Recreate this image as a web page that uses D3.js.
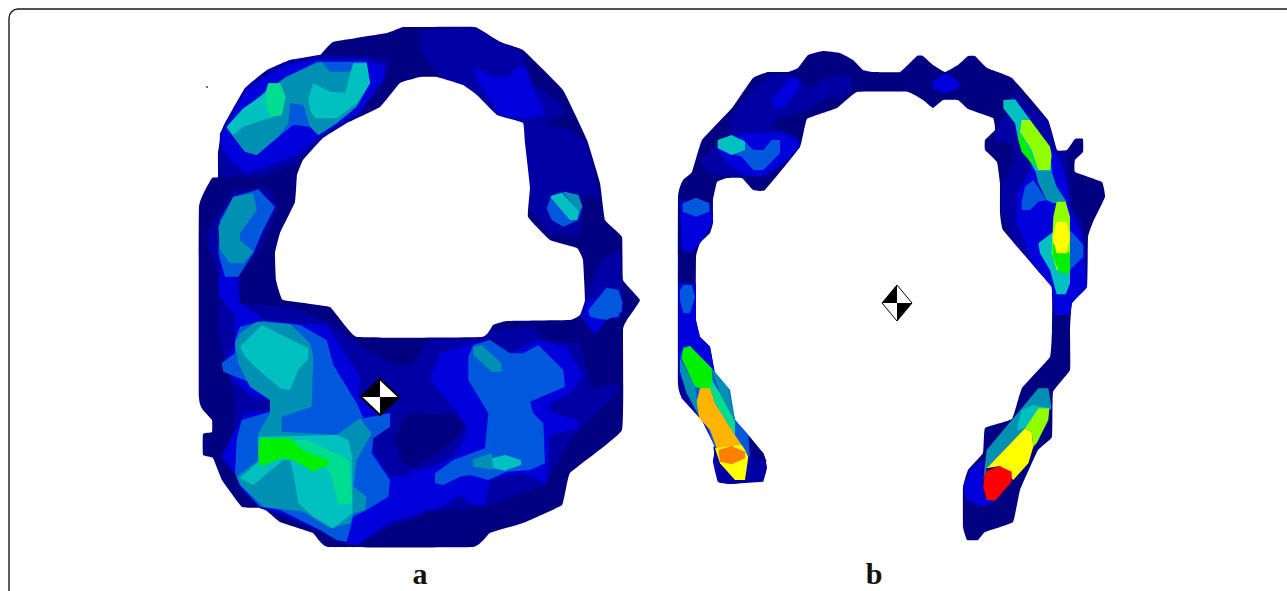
<!DOCTYPE html>
<html>
<head>
<meta charset="utf-8">
<script src="https://cdn.jsdelivr.net/npm/d3@7"></script>
<style>
  html, body { margin: 0; padding: 0; background: #ffffff; overflow: hidden; }
</style>
</head>
<body>
<div id="graph"></div>
<script>
// contour colours, lowest pressure first
var levelColors = ["#000080", "#0000a4", "#0000dc", "#0658dc", "#0090b4", "#00c0c0", "#00dc90",
                   "#00f000", "#90ff00", "#ffff00", "#ffb400", "#ff8000", "#ff0000", "#ffffff"];

var crops = {
    full: [0, 0, 1],
    a1: [190, 20, 3],
    a2: [420, 20, 3],
    a3: [190, 300, 3],
    a4: [410, 300, 3],
    b1: [670, 40, 3],
    b2: [900, 40, 3],
    b3: [670, 280, 3],
    b4: [950, 330, 3]
};

var HOLE = 13;

// [contour level, crop, x y x y ...]
var panelA = [
    [0, "full", [420,27, 475,27, 500,42, 523,50, 563,90, 587,140, 600,183, 605,220, 622,237, 623,280, 640,300, 627,320, 623,330, 622,430, 570,473, 562,505, 523,523, 490,533, 473,547, 328,547, 313,533, 280,522, 263,508, 242,507, 222,480, 213,458, 203,455, 203,434, 212,432, 212,420, 203,410, 199,397, 199,207, 212,178, 218,177, 218,153, 223,127, 245,88, 267,70, 290,60, 318,57, 333,42, 387,33, 403,27]],
    // top left lobe
    [1, "a1", [85,470, 90,340, 165,205, 235,150, 300,120, 385,105, 520,110, 600,120, 590,170, 540,240, 470,310, 400,350, 320,430, 220,470]],
    [2, "a1", [95,340, 170,210, 235,165, 290,135, 390,118, 530,118, 585,140, 580,180, 545,225, 510,280, 450,310, 395,345, 320,405, 230,440, 170,462, 120,420, 95,380]],
    [3, "a1", [110,320, 220,220, 290,170, 380,125, 530,125, 540,190, 500,260, 440,310, 385,345, 360,320, 310,315, 265,350, 200,405, 165,395, 130,350]],
    [4, "a1", [110,325, 220,220, 290,170, 380,130, 395,125, 420,155, 480,155, 490,130, 530,130, 540,190, 500,260, 440,310, 385,345, 360,320, 340,255, 300,250, 295,310, 265,350, 200,405, 165,395, 130,350]],
    [5, "a1", [110,320, 160,265, 225,220, 235,190, 270,190, 285,225, 275,285, 220,300, 160,320, 130,345]],
    [5, "a1", [355,235, 370,190, 420,215, 465,218, 490,130, 530,130, 540,190, 500,250, 440,295, 375,295, 360,270]],
    [6, "a1", [235,190, 270,190, 287,230, 275,285, 240,290, 225,245]],
    // left lobe
    [1, "a1", [45,650, 130,510, 230,500, 265,560, 215,680, 150,770, 150,840, 85,840, 85,760]],
    [2, "a1", [85,680, 90,740, 85,800, 90,840, 150,840, 140,770, 190,700, 215,640, 130,530]],
    [3, "a1", [130,530, 205,508, 255,560, 215,640, 190,700, 145,770, 105,770, 85,700, 90,600]],
    [4, "a1", [85,620, 130,530, 190,520, 200,570, 150,640, 150,660, 190,695, 160,730, 120,730, 90,690]],
    // top right and right side
    [1, "a2", [0,30, 165,25, 240,65, 310,100, 340,190, 420,250, 440,280, 370,310, 450,330, 500,370, 540,530, 490,525, 480,650, 390,640, 330,570, 325,490, 310,350, 310,310, 230,285, 170,225, 130,195, 60,175, 0,90]],
    [2, "a2", [165,140, 220,170, 265,170, 290,140, 315,140, 345,220, 370,255, 370,285, 310,298, 240,285, 170,180]],
    [3, "a2", [380,565, 395,525, 435,515, 475,525, 487,560, 475,600, 430,620, 395,600]],
    [4, "a2", [430,515, 475,525, 487,560, 475,575]],
    [5, "a2", [390,530, 425,518, 478,575, 470,600, 450,600]],
    [1, "a2", [490,850, 540,720, 600,690, 610,860, 590,895, 480,895]],
    [2, "a2", [500,860, 560,800, 600,810, 610,860, 600,895, 490,895]],
    [2, "a4", [520,60, 555,105, 590,60, 630,5, 530,0]],
    [3, "a2", [505,870, 560,803, 595,810, 608,850, 595,890, 540,898, 510,890]],
    [3, "a4", [540,30, 580,0, 635,0, 635,35, 590,60, 545,50]],
    // lower half
    [1, "a3", [85,10, 300,20, 420,70, 480,115, 600,190, 690,200, 690,650, 600,680, 500,738, 440,725, 390,695, 270,645, 210,625, 155,575, 135,525, 95,475, 130,400, 135,300, 85,100]],
    [1, "a4", [0,200, 60,115, 215,115, 250,90, 375,80, 400,120, 510,130, 545,265, 620,250, 625,275, 480,420, 405,555, 310,590, 225,622, 100,630, 0,650]],
    [2, "a3", [100,0, 140,0, 210,50, 220,65, 135,60, 135,40, 110,20]],
    [2, "a3", [135,50, 220,62, 410,75, 510,230, 505,290, 560,340, 605,340, 600,380, 550,415, 550,455, 600,530, 690,525, 690,640, 600,665, 500,735, 440,720, 390,690, 270,640, 210,620, 155,570, 135,520, 95,470, 130,400, 165,340, 240,330, 240,300, 185,290, 130,240, 100,190, 135,130]],
    [2, "a4", [0,510, 70,500, 130,470, 165,410, 170,375, 120,310, 60,240, 90,160, 190,130, 240,120, 300,160, 380,120, 470,140, 520,230, 480,280, 420,310, 420,335, 500,360, 505,385, 420,405, 410,550, 330,520, 240,540, 225,615, 180,610, 150,585, 100,620, 0,640]],
    [0, "a3", [690,340, 640,350, 610,420, 640,490, 690,510]],
    [0, "a4", [0,340, 130,345, 165,375, 130,420, 70,470, 0,500]],
    [3, "a3", [150,80, 220,62, 330,75, 410,120, 430,195, 500,310, 520,355, 600,340, 600,380, 550,415, 545,460, 600,540, 595,590, 530,630, 490,650, 470,725, 440,720, 390,690, 270,630, 210,620, 155,560, 135,520, 140,420, 155,360, 240,335, 240,300, 185,250, 100,215, 95,190, 135,160, 135,120]],
    [3, "a4", [190,135, 240,120, 300,160, 340,160, 385,135, 460,210, 465,260, 360,305, 370,340, 400,370, 405,490, 360,510, 290,515, 235,540, 180,525, 150,530, 100,555, 75,550, 75,520, 130,480, 225,445, 235,340, 175,240, 175,170]],
    [4, "a3", [150,100, 200,65, 300,72, 360,130, 370,170, 365,320, 275,350, 275,395, 440,405, 510,355, 545,400, 500,480, 490,560, 530,590, 525,630, 490,640, 480,670, 420,685, 340,635, 220,620, 150,555, 140,530, 205,480, 205,400, 240,340, 240,300, 180,260, 145,190, 135,130]],
    [4, "a4", [190,140, 215,135, 275,190, 275,215, 245,215, 190,165]],
    [4, "a4", [188,478, 245,460, 250,510, 190,500]],
    [5, "a3", [150,140, 215,75, 285,110, 355,145, 355,175, 325,210, 300,270, 270,265, 200,205, 165,170]],
    [5, "a3", [205,410, 440,405, 475,420, 487,470, 487,640, 430,685, 370,650, 325,610, 310,520, 300,480, 280,480, 190,555, 150,535, 205,485]],
    [5, "a4", [245,475, 285,465, 333,480, 333,495, 285,512, 250,505]],
    [6, "a3", [310,420, 350,420, 478,480, 487,610, 445,615, 425,530, 400,490, 310,470]],
    [7, "a3", [210,415, 300,415, 345,455, 415,480, 415,495, 370,515, 310,480, 275,475, 210,500, 205,460]],
    // opening of the ring
    [HOLE, "full", [297,175, 295,202, 280,233, 275,253, 276,280, 283,300, 330,307, 357,337, 482,337, 493,325, 507,321, 570,320, 580,315, 585,300, 583,260, 577,248, 550,240, 528,217, 530,187, 525,143, 523,123, 497,115, 477,95, 463,85, 437,77, 420,77, 400,83, 380,107, 347,123, 323,138, 303,160]]
];

var panelB = [
    [0, "full", [678,197, 683,180, 692,172, 702,140, 732,108, 753,78, 768,72, 788,72, 798,68, 808,55, 823,51, 840,53, 853,60, 863,70, 873,72, 900,72, 917,56, 923,56, 933,65, 945,72, 958,65, 968,56, 975,56, 987,68, 1012,78, 1048,120, 1057,150, 1067,150, 1075,139, 1083,139, 1083,152, 1075,160, 1075,172, 1102,182, 1105,197, 1093,222, 1088,237, 1087,287, 1072,303, 1070,330, 1070,370, 1053,392, 1052,437, 1038,450, 1020,490, 1013,522, 985,532, 978,540, 967,540, 963,527, 963,487, 968,470, 983,453, 985,428, 1012,419, 1022,388, 1050,357, 1052,330, 1052,287, 1040,273, 1003,230, 1000,213, 1000,183, 997,162, 985,150, 985,140, 995,130, 993,118, 968,109, 958,100, 943,100, 933,108, 923,100, 908,92, 857,92, 837,108, 807,119, 800,147, 765,190, 753,190, 742,178, 727,178, 717,182, 713,200, 713,223, 710,233, 700,243, 696,257, 696,320, 700,337, 710,347, 715,373, 728,390, 735,420, 763,453, 767,467, 763,480, 730,484, 718,482, 713,462, 715,447, 710,430, 700,418, 682,398, 678,383]],
    // top left
    [1, "b1", [190,220, 250,150, 300,105, 355,100, 395,120, 410,140, 430,140, 460,115, 500,105, 545,110, 545,145, 510,175, 480,170, 400,215, 320,235, 305,260, 385,290, 390,320, 340,370, 290,410, 180,410, 120,400, 90,370, 100,350, 170,290]],
    [2, "b1", [305,180, 360,112, 388,120, 385,150, 340,205, 310,205]],
    [2, "b1", [150,300, 230,280, 340,280, 388,305, 385,325, 340,370, 280,408, 220,405, 170,370, 145,330]],
    [3, "b1", [215,295, 250,330, 280,330, 305,300, 330,300, 330,340, 280,390, 250,390, 215,350, 180,340]],
    [5, "b1", [143,300, 185,285, 225,305, 225,330, 185,345, 143,325]],
    [2, "b1", [30,480, 120,490, 130,545, 90,610, 60,640, 35,630]],
    [3, "b1", [38,490, 78,473, 118,490, 118,515, 78,530, 38,515]],
    // lower left foot
    [2, "b3", [25,10, 78,10, 78,120, 90,170, 120,200, 135,280, 175,335, 195,420, 235,465, 240,530, 235,600, 180,612, 145,605, 130,545, 135,500, 90,410, 30,310, 25,250]],
    [1, "b3", [27,290, 75,320, 90,415, 35,355]],
    [1, "b3", [130,500, 235,470, 290,560, 280,605, 180,612, 145,605]],
    [0, "b3", [235,465, 280,520, 290,545, 245,530]],
    [3, "b3", [30,60, 30,30, 40,15, 65,15, 75,50, 60,100, 40,100]],
    [3, "b3", [30,230, 40,200, 60,198, 125,265, 180,330, 195,420, 235,465, 240,530, 225,520, 135,505]],
    [4, "b3", [30,235, 75,320, 90,415, 50,340, 30,275]],
    [4, "b3", [125,265, 175,325, 195,425, 150,340]],
    [7, "b3", [40,205, 60,198, 125,265, 130,330, 90,325, 75,320, 35,235]],
    [6, "b3", [125,300, 150,340, 195,425, 195,465, 135,370, 120,325]],
    [10, "b3", [90,325, 120,325, 135,370, 195,465, 215,495, 230,515, 140,505, 120,450, 88,415, 80,365]],
    [9, "b3", [135,505, 215,495, 235,530, 225,600, 195,600, 150,550]],
    [11, "b3", [145,510, 185,498, 225,515, 225,535, 185,553, 150,545]],
    // right side
    [2, "b2", [98,125, 135,100, 178,125, 178,145, 135,160, 98,145]],
    [1, "b2", [330,165, 350,160, 445,245, 470,335, 500,340, 510,450, 520,510, 545,545, 560,640, 560,740, 515,790, 510,825, 460,825, 455,740, 420,700, 345,610, 305,520, 305,430, 345,360, 335,310, 290,310, 285,270, 315,230]],
    [2, "b2", [350,260, 470,340, 500,420, 510,500, 550,600, 560,740, 515,790, 510,825, 465,825, 455,740, 400,670, 350,550, 350,460, 375,420, 400,370]],
    [3, "b2", [365,485, 375,440, 400,420, 440,480, 415,485, 390,510, 365,510]],
    [3, "b2", [510,570, 550,615, 550,650, 510,690]],
    [4, "b2", [400,370, 450,380, 470,440, 500,485, 460,490, 440,480, 415,430]],
    [5, "b2", [415,610, 460,575, 465,640, 510,690, 510,730, 497,763, 470,763, 450,690, 420,640]],
    [5, "b2", [310,180, 345,178, 450,320, 455,392, 405,392, 355,300, 345,250, 310,205]],
    [8, "b2", [365,240, 390,240, 450,320, 455,345, 450,390, 415,390, 395,330, 360,275]],
    [7, "b2", [358,275, 390,330, 410,385, 395,370, 365,335, 355,300]],
    [8, "b2", [470,485, 497,485, 510,530, 510,690, 470,690, 455,640, 460,530]],
    [7, "b2", [458,610, 510,640, 510,700, 480,700, 458,650]],
    [9, "b2", [470,545, 500,545, 510,590, 500,640, 470,640, 457,590]],
    // lower right foot
    [2, "b4", [40,470, 60,420, 100,390, 100,500, 135,515, 95,530, 50,510]],
    [4, "b4", [100,450, 110,360, 215,235, 265,175, 295,175, 305,235, 225,295, 110,415]],
    [5, "b4", [200,300, 215,240, 250,225, 300,235, 265,235, 225,295]],
    [8, "b4", [225,295, 265,235, 298,235, 295,270, 260,340, 250,350, 245,305]],
    [9, "b4", [110,415, 225,295, 245,305, 250,350, 235,400, 190,450, 150,408]],
    [12, "b4", [105,425, 148,408, 185,425, 185,455, 135,512, 110,510, 100,470]]
];

var panelLabels = ["a", "b"];
var labelX = [420, 874];
var markerX = [380, 897];
var markerY = [397, 303];
var markerRx = [19, 15];
var markerRy = [18, 18];

var width = 1287, height = 591;

var svg = d3.select("#graph").append("svg")
    .attr("width", width)
    .attr("height", height)
    .style("display", "block");

// soften the traced contours a little, the original is a resampled raster
var defs = svg.append("defs");
defs.append("filter").attr("id", "soft")
    .append("feGaussianBlur").attr("stdDeviation", 0.55);

// outer frame, only its top left corner is inside the picture
svg.append("rect")
    .attr("x", 9)
    .attr("y", 9)
    .attr("width", 1320)
    .attr("height", 620)
    .attr("rx", 9)
    .style("fill", "none")
    .style("stroke", "#1a1a1a")
    .style("stroke-width", 1.4);

function contourPath(region) {
    var crop = crops[region[1]];
    var x = d3.scaleLinear().domain([0, crop[2]]).range([crop[0], crop[0] + 1]);
    var y = d3.scaleLinear().domain([0, crop[2]]).range([crop[1], crop[1] + 1]);
    var flat = region[2];
    var points = [];
    for (var i = 0; i < flat.length; i += 2) {
        points.push([flat[i], flat[i + 1]]);
    }
    // the body outlines are rounder than the inner contours
    var outline = region[1] == "full";
    var line = d3.line()
        .x(function(d) { return x(d[0]); })
        .y(function(d) { return y(d[1]); })
        .curve(outline ? d3.curveCardinalClosed.tension(0.75) : d3.curveLinearClosed);
    return line(points);
}

var maps = svg.append("g").attr("filter", "url(#soft)");

maps.selectAll("path.contour")
    .data(panelA.concat(panelB))
    .enter()
    .append("path")
        .attr("class", "contour")
        .attr("d", contourPath)
        .style("fill", function(d) { return levelColors[d[0]]; });

// stray speck left of panel a
maps.append("circle")
    .attr("cx", 207)
    .attr("cy", 87)
    .attr("r", 0.9)
    .style("fill", "#203080");

// centre markers: diamond split in four, black and white
panelLabels.forEach(function(name, i) {
    var cx = markerX[i], cy = markerY[i], rx = markerRx[i], ry = markerRy[i];
    var g = maps.append("g");
    var tri = [
        [[cx, cy], [cx - rx, cy], [cx, cy - ry], "#000000"],
        [[cx, cy], [cx, cy - ry], [cx + rx, cy], "#ffffff"],
        [[cx, cy], [cx + rx, cy], [cx, cy + ry], "#000000"],
        [[cx, cy], [cx, cy + ry], [cx - rx, cy], "#ffffff"]
    ];
    tri.forEach(function(t) {
        g.append("path")
            .attr("d", d3.line()(t.slice(0, 3)) + "Z")
            .style("fill", t[3]);
    });
    g.append("path")
        .attr("d", d3.line()([[cx - rx, cy], [cx, cy - ry], [cx + rx, cy], [cx, cy + ry]]) + "Z")
        .style("fill", "none")
        .style("stroke", "#000000")
        .style("stroke-width", i == 0 ? 2 : 1);
});

svg.selectAll("text.panel")
    .data(panelLabels)
    .enter()
    .append("text")
        .attr("class", "panel")
        .attr("x", function(d, i) { return labelX[i]; })
        .attr("y", 584)
        .attr("text-anchor", "middle")
        .style("font-family", "'Liberation Serif', serif")
        .style("font-weight", "bold")
        .style("font-size", "30px")
        .style("fill", "#111111")
        .text(function(d) { return d; });
</script>
</body>
</html>
